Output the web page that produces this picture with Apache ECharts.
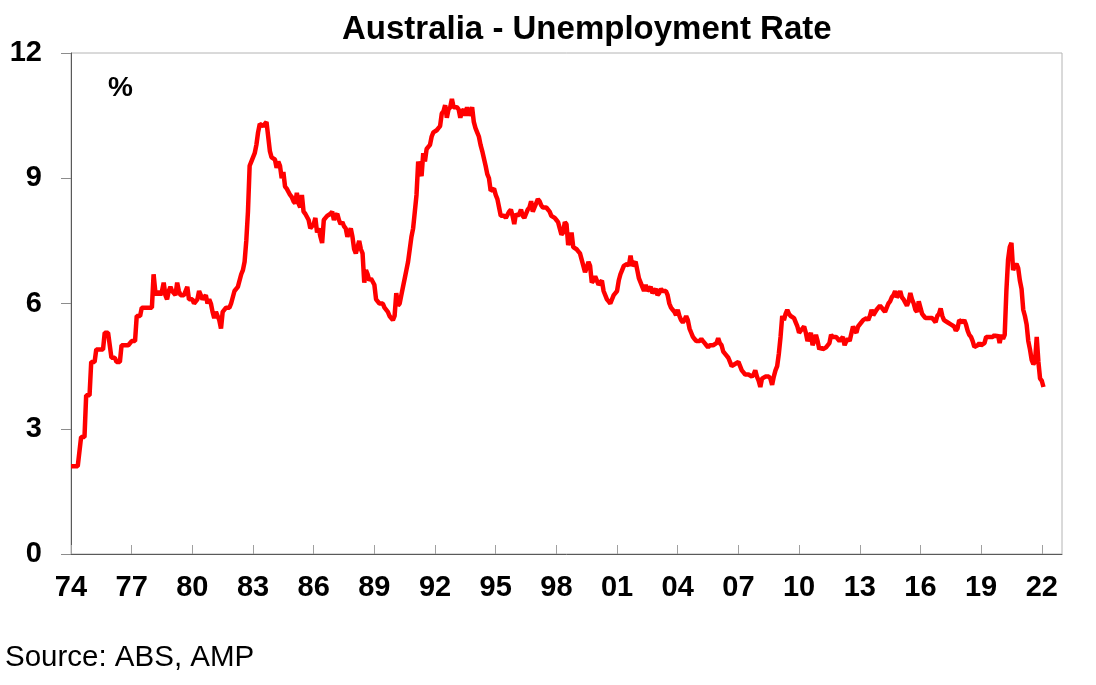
<!DOCTYPE html>
<html>
<head>
<meta charset="utf-8">
<title>Australia - Unemployment Rate</title>
<script src="https://cdn.jsdelivr.net/npm/echarts@6/dist/echarts.min.js"></script>
<style>
    html, body { margin: 0; padding: 0; background: #fff; }
    #chart { width: 1096px; height: 685px; }
</style>
</head>
<body>
<div id="chart"></div>
<script>
    // monthly unemployment rate, % (1974-77 quarterly readings repeated per month)
    var startYear = 1974
    var rate70s = [
        2.1, 2.1, 2.1, 2.1, 2.1, 2.1, 2.8, 2.8, 2.8, 3.8, 3.8, 3.8,
        4.6, 4.6, 4.6, 4.9, 4.9, 4.9, 4.9, 4.9, 5.3, 5.3, 5.3, 5.3,
        4.7, 4.7, 4.7, 4.6, 4.6, 4.6, 5.0, 5.0, 5.0, 5.0, 5.0, 5.0,
        5.1, 5.1, 5.1, 5.7, 5.7, 5.7, 5.9, 5.9, 5.9, 5.9, 5.9, 5.9,
        5.9, 6.7, 6.3, 6.2, 6.3, 6.2, 6.3, 6.5, 6.2, 6.1, 6.3, 6.4,
        6.3, 6.3, 6.2, 6.5, 6.3, 6.2, 6.2, 6.2, 6.3, 6.4, 6.1, 6.1
    ]
    var rate80s = [
        6.1, 6.0, 6.0, 6.1, 6.3, 6.2, 6.1, 6.1, 6.2, 6.0, 6.1, 6.0,
        5.8, 5.65, 5.8, 5.7, 5.6, 5.4, 5.8, 5.8, 5.9, 5.9, 5.9, 6.0,
        6.0, 6.3, 6.3, 6.4, 6.4, 6.7, 6.8, 7.0, 7.5, 8.2, 9.3, 9.4,
        9.4, 9.6, 9.8, 10.1, 10.3, 10.3, 10.25, 10.3, 10.35, 10.0, 9.65, 9.5,
        9.5, 9.45, 9.25, 9.4, 9.3, 9.0, 9.15, 8.8, 8.75, 8.75, 8.6, 8.55,
        8.45, 8.4, 8.65, 8.4, 8.3, 8.6, 8.2, 8.15, 8.15, 8.0, 7.8, 7.8,
        7.9, 8.05, 7.7, 7.8, 7.6, 7.45, 8.0, 8.05, 8.1, 8.1, 8.15, 8.2,
        8.0, 8.1, 8.15, 8.0, 7.9, 7.95, 7.85, 7.8, 7.6, 7.7, 7.8, 7.6,
        7.3, 7.2, 7.35, 7.5, 7.3, 7.2, 6.5, 6.8, 6.7, 6.55, 6.6, 6.6,
        6.45, 6.1, 6.1, 6.0, 6.0, 6.0, 5.9, 5.9, 5.8, 5.7, 5.65, 5.6
    ]
    var rate90s = [
        5.7, 6.25, 5.95, 6.0, 6.2, 6.4, 6.6, 6.8, 7.0, 7.3, 7.6, 7.8,
        8.2, 8.6, 9.4, 9.4, 9.05, 9.6, 9.4, 9.7, 9.75, 9.8, 10.0, 10.1,
        10.1, 10.15, 10.2, 10.25, 10.55, 10.6, 10.75, 10.45, 10.65, 10.7, 10.9, 10.7,
        10.7, 10.7, 10.65, 10.45, 10.6, 10.65, 10.5, 10.7, 10.5, 10.6, 10.7, 10.35,
        10.2, 10.1, 10.0, 9.8, 9.65, 9.65, 9.3, 9.1, 9.0, 8.7, 8.7, 8.75,
        8.6, 8.5, 8.3, 8.1, 8.1, 8.1, 8.05, 8.05, 8.2, 8.25, 8.1, 7.9,
        8.15, 8.1, 8.15, 8.25, 8.1, 8.05, 8.15, 8.25, 8.3, 8.45, 8.2, 8.3,
        8.4, 8.5, 8.45, 8.35, 8.3, 8.3, 8.3, 8.3, 8.2, 8.1, 8.1, 8.05,
        8.0, 7.95, 7.8, 7.65, 7.7, 7.95, 7.9, 7.4, 7.4, 7.7, 7.35, 7.35,
        7.3, 7.25, 7.2, 7.05, 6.9, 6.75, 6.85, 7.0, 6.9, 6.5, 6.55, 6.65
    ]
    var rate00s = [
        6.65, 6.45, 6.5, 6.55, 6.3, 6.3, 6.1, 6.05, 6.0, 6.0, 6.2, 6.25,
        6.3, 6.55, 6.7, 6.8, 6.9, 6.9, 6.95, 6.9, 7.15, 6.9, 6.95, 7.0,
        6.8, 6.6, 6.5, 6.4, 6.3, 6.45, 6.3, 6.3, 6.4, 6.25, 6.3, 6.35,
        6.2, 6.25, 6.35, 6.3, 6.3, 6.3, 6.2, 6.0, 5.9, 5.85, 5.8, 5.72,
        5.85, 5.7, 5.6, 5.55, 5.6, 5.7, 5.6, 5.4, 5.3, 5.2, 5.15, 5.1,
        5.1, 5.1, 5.15, 5.1, 5.05, 5.0, 4.95, 5.0, 5.0, 5.0, 5.0, 5.05,
        5.17, 5.05, 5.0, 4.85, 4.8, 4.8, 4.7, 4.6, 4.5, 4.5, 4.55, 4.55,
        4.6, 4.5, 4.4, 4.35, 4.3, 4.3, 4.3, 4.3, 4.25, 4.3, 4.4, 4.25,
        4.15, 4.0, 4.2, 4.2, 4.25, 4.25, 4.25, 4.2, 4.05, 4.25, 4.4, 4.5,
        4.8, 5.2, 5.7, 5.6, 5.75, 5.85, 5.75, 5.7, 5.7, 5.65, 5.55, 5.45
    ]
    var rate10s = [
        5.3, 5.35, 5.35, 5.45, 5.3, 5.1, 5.2, 5.3, 5.0, 5.1, 5.25, 5.1,
        4.9, 4.95, 4.9, 4.9, 4.95, 4.95, 5.05, 5.25, 5.2, 5.2, 5.2, 5.15,
        5.1, 5.15, 5.2, 5.0, 5.1, 5.15, 5.1, 5.1, 5.45, 5.35, 5.3, 5.45,
        5.45, 5.55, 5.6, 5.6, 5.65, 5.6, 5.7, 5.85, 5.72, 5.75, 5.85, 5.9,
        5.95, 5.9, 5.85, 5.8, 5.9, 6.0, 6.05, 6.15, 6.2, 6.3, 6.15, 6.2,
        6.3, 6.15, 6.1, 6.1, 5.95, 6.05, 6.25, 6.1, 6.0, 5.85, 5.8, 6.05,
        5.9, 5.75, 5.7, 5.65, 5.65, 5.65, 5.65, 5.65, 5.6, 5.55, 5.7, 5.75,
        5.88, 5.7, 5.6, 5.56, 5.55, 5.52, 5.5, 5.48, 5.45, 5.35, 5.4, 5.6,
        5.6, 5.55, 5.6, 5.5, 5.35, 5.25, 5.2, 5.1, 4.96, 5.0, 5.0, 5.05,
        5.0, 5.0, 5.05, 5.2, 5.2, 5.2, 5.2, 5.2, 5.25, 5.2, 5.25, 5.05
    ]
    var rate20s = [
        5.25, 5.15, 5.25, 6.3, 7.05, 7.35, 7.45, 6.8, 6.9, 6.95, 6.85, 6.55,
        6.35, 5.85, 5.7, 5.5, 5.1, 4.9, 4.65, 4.55, 4.6, 5.2, 4.6, 4.2,
        4.15, 4.0
    ]
    var yTicks = [0, 3, 6, 9, 12]

    // 拼成 [年份, 数值]
    var allRates = rate70s.concat(rate80s, rate90s, rate00s, rate10s, rate20s)
    var seriesData = []
    for (i = 0; i < allRates.length; i++) {
        seriesData.push([startYear + i / 12, allRates[i]])
    }

    var font = 'Arial, "Liberation Sans", sans-serif'
    var chart = echarts.init(document.getElementById('chart'))
    chart.setOption({
        animation: false,
        title: {
            text: 'Australia - Unemployment Rate',
            left: 337,
            top: 8,
            textStyle: { fontFamily: font, fontWeight: 'bold', fontSize: 33, color: '#000' }
        },
        grid: {
            left: 71,
            right: 34,
            top: 53,
            bottom: 131,
            show: true,
            borderColor: '#b4b4b4',
            borderWidth: 1
        },
        xAxis: {
            type: 'value',
            min: 1974,
            max: 2023,
            interval: 3,
            axisLine: { lineStyle: { color: '#5a5a5a', width: 1 } },
            axisTick: { inside: true, length: 9, lineStyle: { color: '#a0a0a0' } },
            splitLine: { show: false },
            axisLabel: {
                showMaxLabel: false,
                margin: 19,
                fontFamily: font,
                fontWeight: 'bold',
                fontSize: 29,
                color: '#000',
                formatter: function(v) {
                    return String(v % 100).padStart(2, '0')
                }
            }
        },
        yAxis: {
            type: 'value',
            min: yTicks[0],
            max: yTicks[yTicks.length - 1],
            interval: 3,
            axisLine: { show: true, lineStyle: { color: '#5a5a5a', width: 1 } },
            axisTick: { show: true, length: 10, lineStyle: { color: '#8c8c8c' } },
            splitLine: { show: false },
            axisLabel: {
                margin: 29,
                fontFamily: font,
                fontWeight: 'bold',
                fontSize: 29,
                color: '#000'
            }
        },
        graphic: [{
            type: 'text',
            left: 108,
            top: 74,
            style: { text: '%', font: 'bold 28px ' + font, fill: '#000' }
        }, {
            type: 'text',
            left: 5,
            top: 643,
            style: { text: 'Source: ABS, AMP', font: '29.5px ' + font, fill: '#000' }
        }],
        series: [{
            type: 'line',
            data: seriesData,
            showSymbol: false,
            lineStyle: { color: '#ff0000', width: 4.5 },
            z: 3
        }]
    })
</script>
</body>
</html>
